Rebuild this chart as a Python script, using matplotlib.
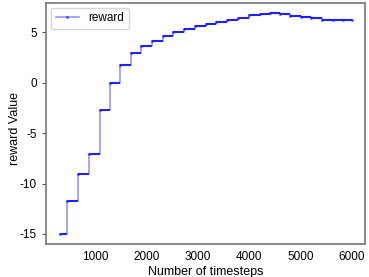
import numpy as np
import matplotlib.pyplot as plt
import matplotlib as mpl

mpl.rc('font', family='Liberation Sans', size=8.5)
mpl.rcParams['axes.unicode_minus'] = False

# step edges (timesteps) and reward levels
step_x = [303, 433, 660, 869, 1084, 1279, 1474, 1683, 1885, 2100, 2314, 2510,
          2720, 2940, 3154, 3350, 3570, 3779, 3994, 4209, 4404, 4600, 4795,
          5004, 5205, 5414, 5629, 5836, 6000]
reward = [-15.0, -11.7, -9.1, -7.1, -2.7, 0.0, 1.75, 2.9, 3.6, 4.15, 4.6, 5.0,
          5.3, 5.6, 5.85, 6.05, 6.25, 6.45, 6.68, 6.8, 6.88, 6.8, 6.65,
          6.52, 6.4, 6.25, 6.18, 6.22, 6.22]

fig = plt.figure(figsize=(3.69, 2.77), dpi=100)
ax = fig.add_axes([0.125, 0.119, 0.864, 0.870])

ax.plot(step_x, reward, drawstyle='steps-post', color='b', alpha=0.45,
        lw=1.1, marker='.', markersize=2.5, label='reward')
ax.hlines(reward[:-1], step_x[:-1], step_x[1:], color='#2020ff', lw=1.5)

ax.set_xlim(30, 6260)
ax.set_ylim(-16.0, 7.9)
ax.set_xticks([1000, 2000, 3000, 4000, 5000, 6000])
ax.set_yticks([-15, -10, -5, 0, 5])
ax.tick_params(axis='x', length=0, pad=5)
ax.tick_params(axis='y', length=3, width=0.8, color='#555555')
for s in ax.spines.values():
    s.set_color('#777777')
    s.set_linewidth(1.2)

ax.set_xlabel('Number of timesteps', fontsize=9, labelpad=2)
ax.set_ylabel('reward Value', fontsize=9)
ax.yaxis.set_label_coords(-0.08, 0.48)
ax.legend(loc='upper left', fontsize=8.5, handlelength=2.0, borderaxespad=0.4,
          edgecolor='#cccccc')

plt.savefig('out.png', dpi=100)
